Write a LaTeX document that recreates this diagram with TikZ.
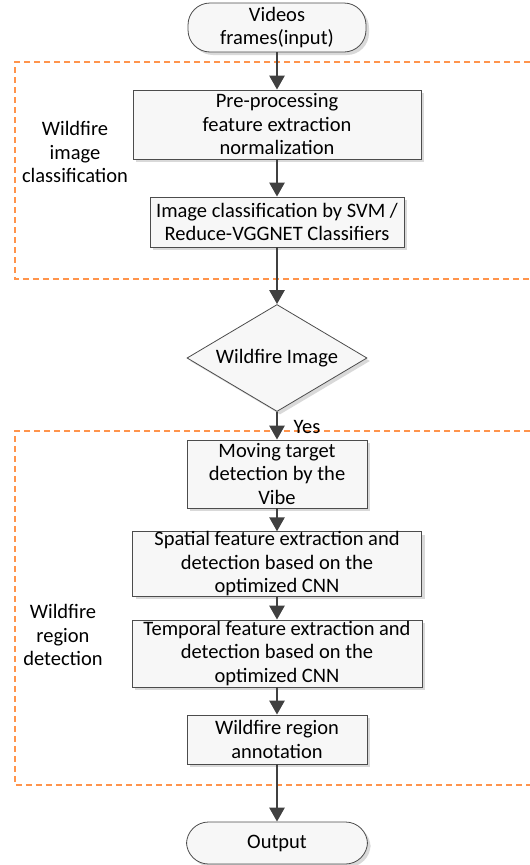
\documentclass[tikz,border=0pt]{standalone}
\usepackage{fontspec}
\setmainfont{Carlito}
\usetikzlibrary{calc, positioning}
\usetikzlibrary{arrows.meta}
\usetikzlibrary{shapes.geometric, shadows}

\tikzset{
  procbox/.style={draw=black!70, thick, fill=gray!6, align=center, inner sep=0pt,
    drop shadow={shadow xshift=3pt, shadow yshift=-3pt, fill=gray!30, opacity=1}},
  termbox/.style={procbox, rounded corners=22pt},
  decbox/.style={procbox, shape=diamond, aspect=1.68},
  grpline/.style={draw=orange!80!red!70, line width=1.2pt, dash pattern=on 6pt off 4pt},
  flow/.style={line width=2.6pt, black!75, -{Triangle[length=14pt,width=15pt]}},
  lbl/.style={align=center}
}

\begin{document}
\begin{tikzpicture}[x=1pt, y=-1pt, font=\fontsize{20.5}{23.5}\selectfont]
\def\xmid{277}
\def\xmax{530}
\def\xgrp{15}

\useasboundingbox (0,0) rectangle (530,865);

% groups
\draw[grpline] (\xmax,62) -- (\xgrp,62) -- (\xgrp,279) -- (\xmax,279);
\draw[grpline] (\xmax,431) -- (\xgrp,431) -- (\xgrp,785) -- (\xmax,785);
\node[lbl] (cls) at (75,152) {Wildfire\\image\\classification};
\node[lbl] (reg) at (63,635) {Wildfire\\region\\detection};

% steps
\node[termbox, minimum width=178pt, minimum height=49pt] (input) at (\xmid,27.5) {Videos\\frames(input)};
\node[procbox, minimum width=288pt, minimum height=69pt] (prep) at (\xmid,124.5) {Pre-processing\\feature extraction\\normalization};
\node[procbox, minimum width=254pt, minimum height=50pt] (svm) at (\xmid,222) {Image classification by SVM /\\Reduce-VGGNET Classifiers};
\node[decbox, minimum width=180pt, minimum height=107pt] (dec) at (\xmid,358) {Wildfire Image};
\node[procbox, minimum width=180pt, minimum height=68pt] (vibe) at (\xmid,474) {Moving target\\detection by the\\Vibe};
\node[procbox, minimum width=289pt, minimum height=62pt] (spat) at (\xmid,564) {Spatial feature extraction and\\detection based on the\\optimized CNN};
\node[procbox, minimum width=290pt, minimum height=67pt] (temp) at (\xmid,653.5) {Temporal feature extraction and\\detection based on the\\optimized CNN};
\node[procbox, minimum width=180pt, minimum height=49pt] (annot) at (\xmid,739.5) {Wildfire region\\annotation};
\node[termbox, minimum width=181pt, minimum height=42pt] (output) at (\xmid,843) {Output};

% flow
\draw[flow] (input) -- (prep);
\draw[flow] (prep) -- (svm);
\draw[flow] (svm) -- (dec);
\draw[flow] (dec) -- (vibe) node[pos=0.55, right=12pt, text=black] {Yes};
\draw[flow] (vibe) -- (spat);
\draw[flow] (spat) -- (temp);
\draw[flow] (temp) -- (annot);
\draw[flow] (annot) -- (output);
\end{tikzpicture}
\end{document}
